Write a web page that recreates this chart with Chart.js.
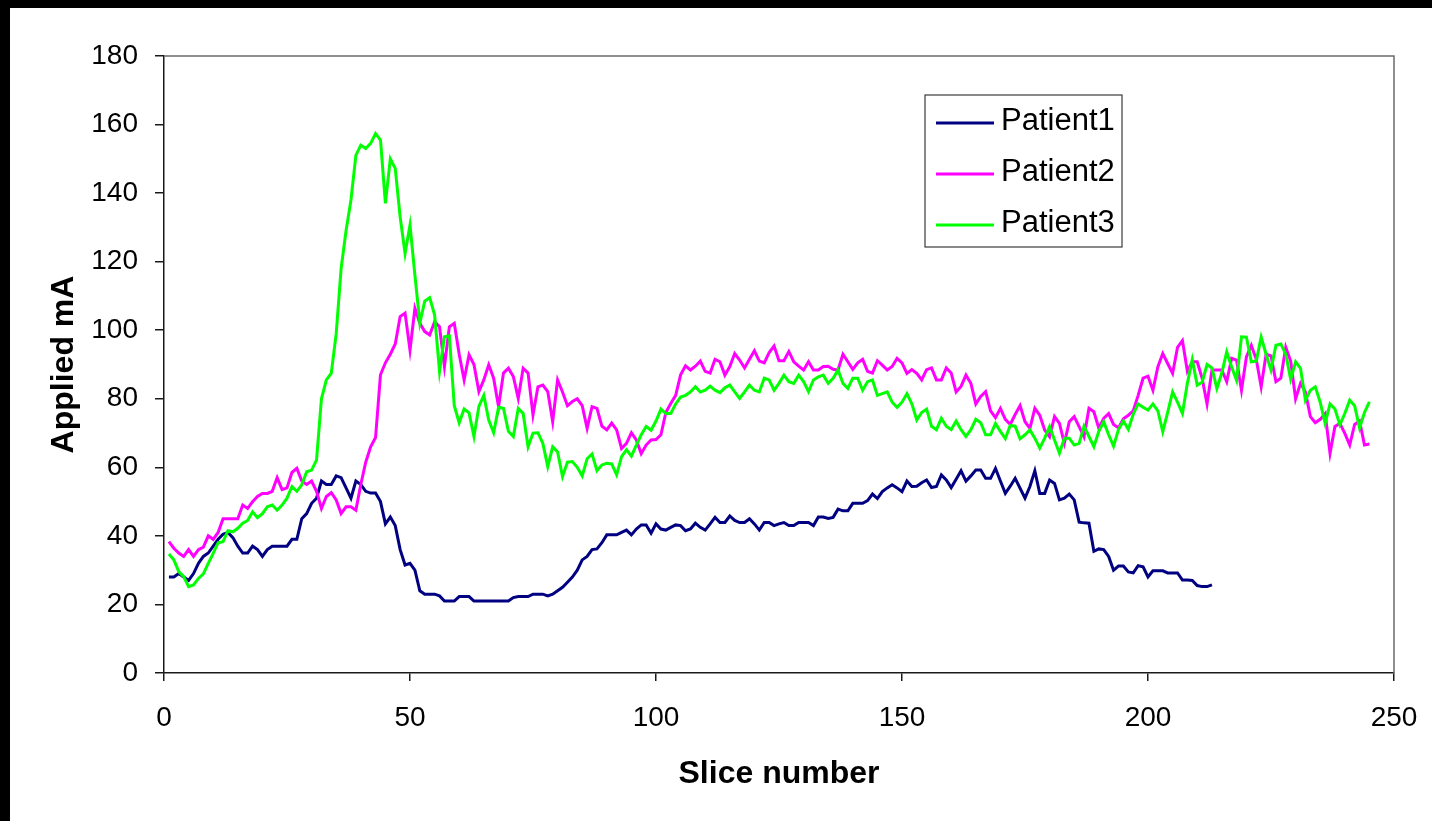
<!DOCTYPE html>
<html>
<head>
<meta charset="utf-8">
<title>Applied mA per slice</title>
<script src="https://cdn.jsdelivr.net/npm/chart.js@4.4.1/dist/chart.umd.min.js"></script>
<style>
  html, body { margin: 0; padding: 0; background: #fff; }
  body {
    width: 1432px;
    height: 821px;
    box-sizing: border-box;
    border-top: 8px solid #000;
    border-left: 10px solid #000;
    overflow: hidden;
  }
  #wrap { position: relative; width: 1422px; height: 813px; }
</style>
</head>
<body>
<div id="wrap"><canvas id="maChart"></canvas></div>
<script>
// values, one per slice starting at slice 1
const patient1 = [
  28, 28, 29, 28, 27, 29, 32, 34, 35, 37,
  39, 40.5, 41, 39.5, 37, 35, 35, 37, 36, 34,
  36, 37, 37, 37, 37, 39, 39, 45, 46.5, 49.5,
  51, 56, 55, 55, 57.5, 57, 54, 51, 56, 55,
  53, 52.5, 52.5, 50, 43.5, 45.5, 43, 36, 31.5, 32,
  30, 24, 23, 23, 23, 22.5, 21, 21, 21, 22.3,
  22.3, 22.3, 21, 21, 21, 21, 21, 21, 21, 21,
  22, 22.3, 22.3, 22.3, 23, 23, 23, 22.5, 23, 24,
  25, 26.5, 28, 30, 33, 34, 36, 36.2, 38, 40.3,
  40.3, 40.3, 41, 41.7, 40.3, 42, 43.2, 43.2, 40.8, 43.5,
  42, 41.7, 42.5, 43.2, 43, 41.5, 42, 43.7, 42.5, 41.7,
  43.5, 45.4, 43.9, 43.9, 45.8, 44.5, 43.9, 43.9, 45, 43.5,
  41.7, 43.9, 43.9, 43, 43.5, 43.9, 43, 43, 43.9, 43.9,
  43.9, 43, 45.5, 45.5, 45.1, 45.4, 47.8, 47.3, 47.3, 49.5,
  49.5, 49.5, 50.3, 52.2, 50.9, 52.9, 54, 54.9, 54, 52.9,
  56, 54.4, 54.5, 55.5, 56.3, 54.1, 54.4, 57.8, 56.3, 54.1,
  56.5, 59, 56, 57.5, 59.2, 59.2, 56.8, 56.8, 59.7, 56,
  52.4, 54.5, 56.8, 53.9, 51, 54.4, 59, 52.4, 52.4, 56.3,
  55.3, 50.5, 51, 52.2, 50.5, 44, 43.8, 43.7, 35.5, 36.2,
  36, 34, 30, 31.2, 31.2, 29.5, 29.2, 31.3, 31, 28,
  29.8, 29.8, 29.8, 29.2, 29.2, 29.2, 27.1, 27.1, 27, 25.5,
  25.2, 25.2, 25.7
];

const patient2 = [
  38.3, 36.4, 35, 34, 36, 34, 36, 36.7, 40, 39,
  41, 45, 45, 45, 45, 49, 48, 50, 51.5, 52.4,
  52.4, 53, 57, 53.5, 54, 58.5, 59.7, 56, 55, 56,
  53, 48, 51.5, 52.6, 50.5, 46.5, 48.5, 48.5, 47.5, 55,
  61.5, 66, 68.7, 87, 90.5, 93, 96, 104, 105, 94.2,
  106.4, 102, 99.6, 98.6, 102.5, 101, 89.4, 101, 102, 93,
  85.5, 92.8, 90, 82.1, 85.5, 89.9, 86, 77.7, 87.5, 88.9,
  86.5, 80.1, 88.9, 87.5, 75.3, 83.5, 84, 82.1, 73.3, 85.5,
  82, 78, 79.2, 80, 78, 71.4, 77.7, 77.2, 72, 70.9,
  72.9, 70.9, 65.5, 67, 70.1, 68, 64, 66.5, 68, 68.1,
  69.5, 76, 78.6, 81, 87, 89.6, 88.4, 89.5, 91, 88,
  87.5, 91.5, 90.8, 86.9, 89.4, 93.2, 91.3, 89, 91.5, 94,
  91, 90.5, 93.5, 95.4, 91.1, 91.1, 93.8, 90.8, 89.5, 88.4,
  90.8, 88.4, 88.4, 89.4, 89.5, 88.6, 88.4, 93, 90.8, 88.6,
  90.5, 91.5, 88, 87.5, 91.1, 89.8, 88.4, 89.4, 91.8, 90.5,
  87.4, 88.5, 87.4, 85.5, 88.5, 89, 85.5, 85.5, 89, 87.5,
  82, 83.6, 86.9, 84.5, 78.5, 80.7, 82.1, 76.5, 74.5, 77.2,
  74, 72.5, 75.4, 78, 73.3, 71.4, 77.2, 75.2, 70.9, 68.9,
  74.8, 72.8, 67, 73.3, 74.8, 71.9, 68.9, 77.2, 76.2, 71.4,
  74.3, 75.7, 72.5, 71.5, 74.2, 75.2, 76.5, 81, 86, 86.6,
  82.5, 89.3, 93.2, 90.3, 87.4, 95, 97, 88, 90.8, 90.8,
  86, 78.5, 88.4, 88.4, 88.4, 85, 91.8, 91.3, 82.5, 92.2,
  95.6, 91.5, 83.5, 93, 92.5, 85, 86, 95, 91, 80,
  84.5, 82, 74.8, 73, 74, 75.7, 64.1, 71.9, 72.8, 69.9,
  66.5, 72.5, 73.5, 66.5, 66.8
];

const patient3 = [
  34.7, 33, 29.6, 28.1, 25.2, 25.7, 27.6, 28.9, 32, 34.9,
  38, 38.3, 41.5, 41.2, 42.2, 43.7, 44.5, 47, 45.3, 46.5,
  48.5, 49, 47.5, 49, 51, 54.4, 53, 54.9, 58.7, 59.2,
  62.1, 80, 85.5, 87.5, 99, 118, 129, 138, 151, 154,
  153, 154.5, 157.4, 155.5, 137, 150, 147.2, 133, 122.4, 130.7,
  116, 102.1, 108.5, 109.5, 104.5, 88, 98.1, 98.4, 78, 73,
  77, 75.9, 69, 77.8, 81, 73.8, 70.1, 77.5, 77.2, 70.5,
  69, 77.2, 75.7, 66, 70, 70.1, 67, 60.2, 66, 64.5,
  57.3, 61.5, 61.7, 60, 57.5, 62.5, 63.9, 59, 60.7, 61.2,
  61, 57.8, 63.1, 65.1, 63.3, 66.5, 69.5, 71.9, 70.8, 73.5,
  77, 75.7, 75.7, 78.5, 80.5, 81, 82, 83.5, 82, 82.5,
  83.7, 82.5, 81.8, 83.2, 84, 82, 80.1, 82, 84, 82.5,
  82, 86, 85.5, 82.5, 84.5, 86.9, 85, 84.5, 86.9, 85,
  82.1, 85.5, 86.4, 86.9, 84.5, 86, 88.4, 84.5, 83, 86,
  86, 82.5, 85, 85.5, 81, 81.5, 82, 79, 77.5, 79,
  81.5, 78.5, 73.8, 76, 77, 72, 71, 74.3, 72, 71,
  73.5, 71, 69, 71, 74, 73, 69.5, 69.5, 72.8, 70.5,
  68.4, 72.2, 72, 68.3, 69.5, 70.9, 68.5, 65.6, 68.5, 71.9,
  68, 64.1, 68.5, 68.5, 66.5, 67, 72, 69, 66, 70.5,
  73.3, 69.5, 66.2, 71, 73.5, 71.1, 75.5, 78.5, 77.5, 76.7,
  78.5, 76.5, 70.4, 76, 82, 79, 75.7, 84.5, 91.4, 84,
  84.8, 90, 89, 83, 87.5, 93.7, 89.3, 85.4, 98.1, 98,
  90.8, 91, 98, 93, 88.4, 95.6, 96, 93, 85.7, 90.8,
  88.9, 79.5, 82.5, 83.5, 79, 72.8, 78.5, 77, 72.4, 75.7,
  79.6, 78, 71.5, 76, 79.1
];

const slices = Array.from({ length: patient2.length }, (_, i) => i + 1);

const seriesNames = ['Patient1', 'Patient2', 'Patient3'];
const seriesColors = ['#000080', '#ff00ff', '#00ff00'];

const FONT = '"Liberation Sans", Arial, Helvetica, sans-serif';
const INK = '#000';
const AXIS = '#1a1a1a';

// gray frame on the top and right of the plot area
const plotFrame = {
  id: 'plotFrame',
  afterDraw(chart) {
    const { ctx, chartArea: a } = chart;
    ctx.save();
    ctx.strokeStyle = '#6b6b6b';
    ctx.lineWidth = 1.5;
    ctx.beginPath();
    ctx.moveTo(a.left, a.top);
    ctx.lineTo(a.right, a.top);
    ctx.lineTo(a.right, a.bottom);
    ctx.stroke();
    ctx.restore();
  }
};

// boxed legend floating inside the plot, like the spreadsheet one
const boxLegend = {
  id: 'boxLegend',
  afterDraw(chart, args, opts) {
    const { ctx } = chart;
    ctx.save();
    ctx.fillStyle = '#fff';
    ctx.fillRect(opts.x, opts.y, opts.width, opts.height);
    ctx.strokeStyle = '#3a3a3a';
    ctx.lineWidth = 1.2;
    ctx.strokeRect(opts.x, opts.y, opts.width, opts.height);

    ctx.font = opts.font;
    ctx.textBaseline = 'middle';
    ctx.textAlign = 'left';
    chart.data.datasets.forEach((ds, i) => {
      const cy = opts.y + opts.firstRow + i * opts.rowGap;
      const x0 = opts.x + opts.padLeft;
      ctx.strokeStyle = ds.borderColor;
      ctx.lineWidth = ds.borderWidth;
      ctx.beginPath();
      ctx.moveTo(x0, cy);
      ctx.lineTo(x0 + opts.lineLength, cy);
      ctx.stroke();
      ctx.fillStyle = INK;
      ctx.fillText(ds.label, x0 + opts.lineLength + opts.textGap, cy - 2);
    });
    ctx.restore();
  }
};

function makeDataset(i, values) {
  return {
    label: seriesNames[i],
    data: values,
    borderColor: seriesColors[i],
    backgroundColor: seriesColors[i],
    borderWidth: 3,
    pointRadius: 0,
    tension: 0,
    fill: false,
    order: 3 - i
  };
}

new Chart(document.getElementById('maChart'), {
  type: 'line',
  data: {
    labels: slices,
    datasets: [
      makeDataset(0, patient1),
      makeDataset(1, patient2),
      makeDataset(2, patient3)
    ]
  },
  options: {
    responsive: true,
    maintainAspectRatio: false,
    animation: false,
    layout: { padding: { top: 48, right: 38, left: 0, bottom: 0 } },
    plugins: {
      legend: { display: false },
      tooltip: { enabled: false },
      boxLegend: {
        x: 915, y: 87, width: 197, height: 152,
        firstRow: 28, rowGap: 51,
        padLeft: 11, lineLength: 58, textGap: 7,
        font: `31px ${FONT}`
      }
    },
    scales: {
      x: {
        type: 'linear',
        min: 0,
        max: 250,
        afterFit(scale) {
          scale.height = 148;
          // the end labels fit inside the fixed outer padding
          scale.paddingLeft = 0;
          scale.paddingRight = 0;
        },
        ticks: {
          stepSize: 50,
          maxRotation: 0,
          padding: 20,
          color: INK,
          font: { family: FONT, size: 28 }
        },
        grid: { drawOnChartArea: false, tickLength: 8, color: AXIS, lineWidth: 1.5 },
        border: { color: AXIS, width: 1.5 },
        title: {
          display: true,
          text: 'Slice number',
          color: INK,
          font: { family: FONT, size: 32, weight: 'bold' },
          padding: { top: 0, bottom: 28 }
        }
      },
      y: {
        min: 0,
        max: 180,
        afterFit(scale) { scale.width = 154; },
        ticks: {
          stepSize: 20,
          padding: 17,
          color: INK,
          font: { family: FONT, size: 28 }
        },
        grid: { drawOnChartArea: false, tickLength: 9, color: AXIS, lineWidth: 1.5 },
        border: { color: AXIS, width: 1.5 },
        title: {
          display: true,
          text: 'Applied mA',
          color: INK,
          font: { family: FONT, size: 32, weight: 'bold' },
          padding: { top: 35, bottom: 0 }
        }
      }
    }
  },
  plugins: [plotFrame, boxLegend]
});
</script>
</body>
</html>
